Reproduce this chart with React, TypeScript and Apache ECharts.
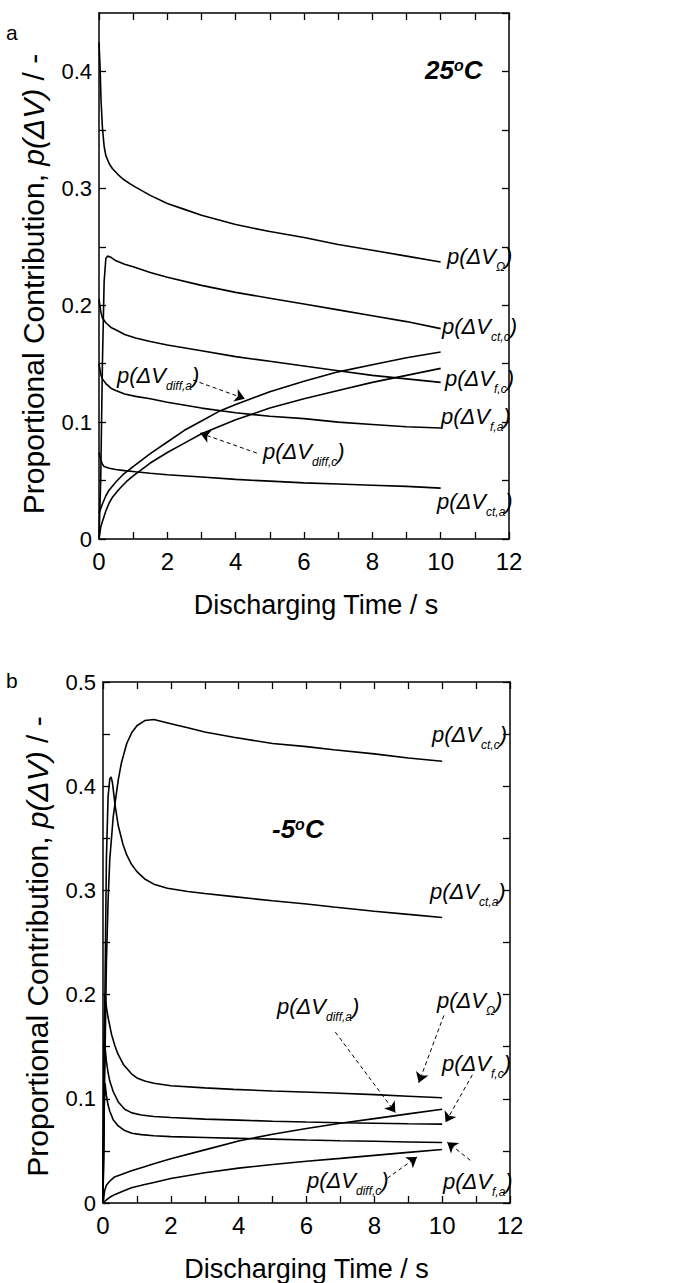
import React, { useEffect, useRef } from "react";
import * as echarts from "echarts";

// ---------- data: panel a (25 °C) ----------
const xTicks = [0, 2, 4, 6, 8, 10, 12];
const a_omega = [[0,0.425],[0.03,0.405],[0.06,0.375],[0.1,0.352],[0.15,0.336],[0.2,0.328],[0.3,0.321],[0.39,0.317],[0.55,0.312],[0.7,0.308],[0.9,0.304],[1.07,0.301],[1.5,0.294],[2,0.287],[2.5,0.282],[3,0.277],[4,0.269],[5,0.263],[6,0.258],[7,0.252],[8,0.247],[9,0.242],[10,0.237]];
const a_ctc = [[0,0],[0.05,0.05],[0.1,0.15],[0.15,0.22],[0.2,0.24],[0.25,0.242],[0.35,0.241],[0.5,0.238],[0.75,0.235],[1,0.233],[1.5,0.228],[2,0.224],[3,0.217],[4,0.211],[5,0.206],[6,0.201],[7,0.196],[8,0.191],[9,0.186],[10,0.18]];
const a_fc = [[0,0.205],[0.05,0.195],[0.1,0.189],[0.2,0.185],[0.35,0.181],[0.49,0.179],[0.75,0.175],[1.07,0.172],[1.5,0.169],[2,0.166],[3,0.161],[4,0.156],[5,0.152],[6,0.148],[7,0.144],[8,0.14],[9,0.137],[10,0.134]];
const a_fa = [[0,0.15],[0.05,0.141],[0.1,0.137],[0.2,0.133],[0.35,0.129],[0.49,0.127],[0.75,0.124],[1.07,0.122],[1.5,0.12],[2,0.117],[3,0.112],[4,0.108],[5,0.105],[6,0.103],[7,0.1],[8,0.098],[9,0.096],[10,0.095]];
const a_cta = [[0,0.074],[0.05,0.068],[0.1,0.064],[0.15,0.062],[0.3,0.0605],[0.49,0.0595],[0.75,0.0585],[1.07,0.0575],[1.5,0.0563],[2,0.055],[3,0.053],[4,0.051],[5,0.0495],[6,0.048],[7,0.047],[8,0.046],[9,0.045],[10,0.0435]];
const a_diffa = [[0,0.022],[0.05,0.026],[0.1,0.03],[0.2,0.037],[0.3,0.042],[0.5,0.049],[0.7,0.055],[1,0.062],[1.5,0.073],[2,0.083],[2.5,0.093],[3,0.101],[3.5,0.109],[4,0.115],[5,0.126],[6,0.135],[7,0.143],[8,0.149],[9,0.155],[10,0.16]];
const a_diffc = [[0,0],[0.05,0.01],[0.1,0.015],[0.2,0.024],[0.3,0.031],[0.4,0.036],[0.6,0.043],[0.8,0.049],[1,0.054],[1.5,0.065],[2,0.074],[2.5,0.082],[3,0.09],[3.5,0.096],[4,0.102],[5,0.112],[6,0.12],[7,0.127],[8,0.134],[9,0.14],[10,0.146]];

// ---------- data: panel b (-5 °C) ----------
const b_ctc = [[0,0],[0.05,0.12],[0.1,0.23],[0.15,0.29],[0.2,0.33],[0.3,0.37],[0.36,0.385],[0.45,0.406],[0.54,0.422],[0.7,0.441],[0.84,0.451],[1,0.458],[1.23,0.463],[1.5,0.464],[2,0.46],[2.5,0.456],[3,0.452],[3.85,0.447],[5,0.441],[6,0.438],[6.8,0.435],[8,0.431],[9,0.427],[10,0.424]];
const b_cta = [[0,0],[0.05,0.18],[0.1,0.33],[0.15,0.39],[0.2,0.407],[0.24,0.409],[0.28,0.403],[0.36,0.381],[0.45,0.362],[0.59,0.344],[0.7,0.334],[0.84,0.325],[1,0.318],[1.23,0.311],[1.5,0.306],[1.9,0.302],[2.5,0.299],[3,0.297],[3.85,0.294],[5,0.29],[6,0.287],[6.8,0.284],[8,0.28],[9,0.277],[10,0.274]];
const b_omega = [[0,0],[0.03,0.15],[0.06,0.2],[0.1,0.188],[0.15,0.178],[0.25,0.162],[0.35,0.151],[0.44,0.143],[0.6,0.133],[0.84,0.124],[1,0.12],[1.23,0.117],[1.5,0.115],[2,0.1125],[3,0.1105],[3.85,0.109],[5,0.1075],[6.8,0.1055],[8,0.104],[9,0.1025],[10,0.101]];
const b_fc = [[0,0],[0.03,0.12],[0.06,0.15],[0.1,0.136],[0.15,0.125],[0.2,0.117],[0.3,0.107],[0.45,0.097],[0.64,0.09],[0.85,0.0865],[1.13,0.0845],[1.5,0.083],[2,0.082],[3,0.0805],[4,0.0795],[5,0.0785],[6,0.0777],[7,0.077],[8,0.0765],[9,0.076],[10,0.0757]];
const b_fa = [[0,0],[0.03,0.09],[0.06,0.115],[0.1,0.103],[0.15,0.094],[0.2,0.088],[0.3,0.08],[0.45,0.074],[0.64,0.0695],[0.85,0.067],[1.13,0.0656],[1.5,0.0645],[2,0.0637],[3,0.0628],[4,0.062],[5,0.0613],[6,0.0605],[7,0.0598],[8,0.0592],[9,0.0586],[10,0.058]];
const b_diffa = [[0,0],[0.05,0.012],[0.1,0.017],[0.2,0.021],[0.34,0.025],[0.6,0.028],[0.84,0.031],[1.2,0.0345],[1.5,0.0377],[2,0.0425],[3,0.051],[4,0.0595],[5,0.066],[6,0.0715],[7,0.0765],[8,0.081],[9,0.0855],[10,0.09]];
const b_diffc = [[0,0],[0.1,0.003],[0.2,0.0055],[0.34,0.008],[0.6,0.0115],[0.84,0.0147],[1.2,0.0175],[1.5,0.0197],[2,0.0235],[3,0.029],[4,0.0335],[5,0.037],[6,0.04],[7,0.0428],[8,0.0457],[9,0.0486],[10,0.0514]];

// dashed arrows (data coords): [from, to]
const a_arrows = [
  [[2.75, 0.136], [4.27, 0.12]],
  [[4.62, 0.0735], [2.96, 0.0906]],
];
const b_arrows = [
  [[10.05, 0.18], [9.31, 0.1155]],
  [[6.85, 0.164], [8.62, 0.0868]],
  [[10.89, 0.123], [10.1, 0.0774]],
  [[10.83, 0.041], [10.15, 0.0584]],
  [[8.38, 0.0237], [9.26, 0.0442]],
];

const SANS = "'Liberation Sans', Arial, sans-serif";
const NARROW = "'Liberation Sans Narrow', 'Liberation Sans', Arial, sans-serif";

function pLabel(sub: string, x: number, y: number) {
  return {
    type: "text",
    x,
    y,
    style: {
      text: `{m|p(ΔV}{s|${sub}}{m|)}`,
      align: "left",
      verticalAlign: "top",
      fill: "#000",
      rich: {
        m: { fontSize: 22, fontStyle: "italic", fontFamily: NARROW, lineHeight: 26, verticalAlign: "top", fill: "#000" },
        s: { fontSize: 12, fontStyle: "italic", fontFamily: NARROW, lineHeight: 12, padding: [16, 0, 0, 0], verticalAlign: "top", fill: "#000" },
      },
    },
  };
}

function tempLabel(t: string, x: number, y: number) {
  return {
    type: "text",
    x,
    y,
    style: {
      text: `{m|${t}}{o|o}{m|C}`,
      align: "left",
      verticalAlign: "top",
      fill: "#000",
      rich: {
        m: { fontSize: 26, fontStyle: "italic", fontWeight: "bold", fontFamily: SANS, lineHeight: 30, verticalAlign: "top", fill: "#000" },
        o: { fontSize: 16, fontStyle: "italic", fontWeight: "bold", fontFamily: SANS, lineHeight: 14, verticalAlign: "top", fill: "#000" },
      },
    },
  };
}

const axisLine = { show: true, onZero: false, lineStyle: { color: "#000", width: 1.5 } };
const axisTick = { show: true, inside: true, length: 7, lineStyle: { color: "#000", width: 1.3 } };

function yFmt(v: number) {
  const k = Math.round(v * 100);
  if (k % 10 !== 0) return "";
  return k === 0 ? "0" : (k / 100).toFixed(1);
}

function xFmt(v: number) {
  return xTicks.includes(v) ? String(v) : "";
}

function makeX(grid: number, shift: number) {
  return [
    {
      type: "value", gridIndex: grid, min: 0, max: 12, interval: 1, position: "bottom",
      axisLine, axisTick, splitLine: { show: false },
      axisLabel: { formatter: xFmt, fontSize: 24, color: "#000", margin: 10, fontFamily: SANS },
      name: "Discharging Time / s", nameLocation: "middle", nameGap: 52,
      nameTextStyle: { fontSize: 27, color: "#000", fontFamily: SANS, padding: [0, 0, 0, shift] },
    },
    {
      type: "value", gridIndex: grid, min: 0, max: 12, interval: 1, position: "top",
      axisLine, axisTick, splitLine: { show: false }, axisLabel: { show: false },
    },
  ];
}

function makeY(grid: number, max: number, shiftDown: number) {
  return [
    {
      type: "value", gridIndex: grid, min: 0, max, interval: 0.05, position: "left",
      axisLine, axisTick, splitLine: { show: false },
      axisLabel: { formatter: yFmt, fontSize: 22, color: "#000", margin: 7, fontFamily: SANS, showMaxLabel: max === 0.5 },
      name: "Proportional Contribution, {i|p(ΔV)} / -", nameLocation: "middle", nameGap: 51,
      nameTextStyle: {
        fontSize: 30, color: "#000", fontFamily: SANS, padding: [0, shiftDown, 0, 0],
        rich: { i: { fontSize: 30, fontStyle: "italic", color: "#000", fontFamily: SANS } },
      },
    },
    {
      type: "value", gridIndex: grid, min: 0, max, interval: 0.05, position: "right",
      axisLine, axisTick, splitLine: { show: false }, axisLabel: { show: false },
    },
  ];
}

function line(data: number[][], xi: number, yi: number, arrows?: number[][][]) {
  const s: any = {
    type: "line", data, xAxisIndex: xi, yAxisIndex: yi, symbol: "none", smooth: false,
    lineStyle: { color: "#000", width: 1.6 }, silent: true,
  };
  if (arrows) {
    s.markLine = {
      silent: true, symbol: ["none", "arrow"], symbolSize: 10, precision: 4,
      label: { show: false },
      lineStyle: { color: "#000", width: 1, type: [4, 3] },
      itemStyle: { color: "#000" },
      data: arrows.map(([f, t]) => [{ coord: f }, { coord: t }]),
    };
  }
  return s;
}

export default function App() {
  const ref = useRef<HTMLDivElement>(null);
  useEffect(() => {
    if (!ref.current) return;
    const chart = echarts.init(ref.current, null, { renderer: "svg" });
    chart.setOption({
      animation: false,
      backgroundColor: "#fff",
      grid: [
        { left: 99, top: 13, width: 410, height: 526 },
        { left: 103, top: 682, width: 407, height: 528 },
      ],
      xAxis: [...makeX(0, 24), ...makeX(1, 0)],
      yAxis: [...makeY(0, 0.45, 16), ...makeY(1, 0.5, 8)],
      series: [
        line(a_omega, 0, 0),
        line(a_ctc, 0, 0),
        line(a_fc, 0, 0),
        line(a_fa, 0, 0),
        line(a_cta, 0, 0),
        line(a_diffa, 0, 0, a_arrows),
        line(a_diffc, 0, 0),
        line(b_ctc, 2, 2),
        line(b_cta, 2, 2),
        line(b_omega, 2, 2),
        line(b_fc, 2, 2),
        line(b_fa, 2, 2),
        line(b_diffa, 2, 2, b_arrows),
        line(b_diffc, 2, 2),
      ],
      graphic: [
        { type: "text", x: 6, y: 22, style: { text: "a", fontSize: 21, fontFamily: SANS, fill: "#000" } },
        { type: "text", x: 6, y: 670, style: { text: "b", fontSize: 21, fontFamily: SANS, fill: "#000" } },
        tempLabel("25", 425, 57),
        tempLabel("-5", 272, 816),
        pLabel("Ω", 447, 245),
        pLabel("ct,c", 442, 315),
        pLabel("f,c", 445, 367),
        pLabel("f,a", 441, 405),
        pLabel("ct,a", 437, 490),
        pLabel("diff,a", 117, 364),
        pLabel("diff,c", 263, 440),
        pLabel("ct,c", 432, 723),
        pLabel("ct,a", 430, 880),
        pLabel("Ω", 437, 989),
        pLabel("diff,a", 277, 995),
        pLabel("f,c", 442, 1052),
        pLabel("diff,c", 307, 1169),
        pLabel("f,a", 443, 1170),
      ],
    });
    return () => chart.dispose();
  }, []);
  return <div ref={ref} style={{ position: "absolute", left: 0, top: 0, width: 679, height: 1283 }} />;
}
